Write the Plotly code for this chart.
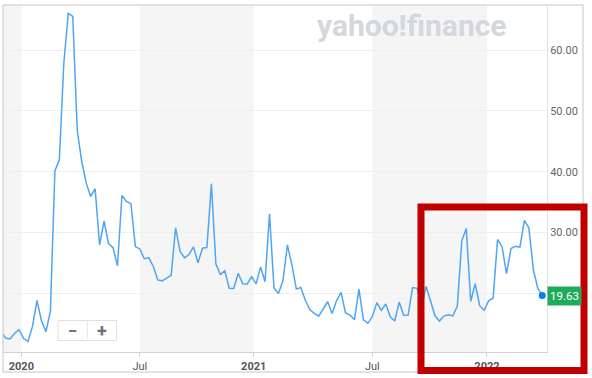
import pandas as pd
import plotly.graph_objects as go

# ---- data (weekly VIX, weeks starting Monday) ----
START_WEEK = "2019-12-02"
VALUES = [
    13.62, 12.63, 12.51, 13.43,
    14.02, 12.56, 12.10, 14.56, 18.84, 15.47, 13.68, 17.08, 40.11, 41.94,
    57.83, 66.04, 65.54, 46.80, 41.67, 38.15, 35.93, 37.19, 27.98, 31.89,
    28.16, 27.51, 24.52, 36.09, 35.12, 34.73, 27.68, 27.29, 25.68, 25.84,
    24.46, 22.21, 22.05, 22.54, 22.96, 30.75, 26.87, 25.83, 26.38, 27.63,
    25.00, 27.41, 27.55, 38.02, 24.86, 23.10, 23.70, 20.84, 20.79, 23.31,
    21.57, 21.53, 22.75,
    21.56, 24.34, 21.91, 33.09, 20.87, 19.97, 22.05, 27.95, 24.66, 20.69,
    20.95, 18.86, 17.33, 16.69, 16.25, 17.33, 18.61, 16.69, 18.81, 20.15,
    16.76, 16.42, 15.65, 20.70, 15.62, 15.07, 16.18, 18.45, 17.20, 18.24,
    16.15, 15.45, 18.56, 16.39, 16.41, 20.95, 20.81, 17.75, 21.15, 18.77,
    16.30, 15.43, 16.26, 16.48, 16.29, 17.91, 28.62, 30.67, 18.69, 21.57,
    17.96, 17.22,
    18.76, 19.19, 28.85, 27.66, 23.22, 27.36, 27.75, 27.59, 31.98, 30.75,
    23.87, 20.81, 19.63,
]
DATES = pd.date_range(START_WEEK, periods=len(VALUES), freq="W-MON")

TICK_DATES = ["2020-01-02 12:00", "2020-07-06", "2020-12-31 06:00", "2021-07-05", "2021-12-31 10:00"]
TICK_LABELS = ["<b>2020</b>", "Jul", "<b>2021</b>", "Jul", "<b>2022</b>"]
Y_TICKS = [20, 30, 40, 50, 60]
Y_LABELS = ["", "30.00", "40.00", "50.00", "60.00"]
X_RANGE = ["2019-12-04 19:00", "2022-04-04 09:00"]
Y_RANGE = [10.35, 67.4]
SHADED = [(X_RANGE[0], TICK_DATES[0]), (TICK_DATES[1], TICK_DATES[2]), (TICK_DATES[3], TICK_DATES[4])]
LAST_LABEL = f"{VALUES[-1]:.2f}"

fig = go.Figure()
fig.add_trace(go.Scatter(x=DATES, y=VALUES, mode="lines",
                         line=dict(color="#4ea5f4", width=1.5), hoverinfo="skip"))
fig.add_trace(go.Scatter(x=[DATES[-1]], y=[VALUES[-1]], mode="markers",
                         marker=dict(color="#0a7ff2", size=7), hoverinfo="skip"))

for a, b in SHADED:
    fig.add_shape(type="rect", xref="x", yref="paper", x0=a, x1=b, y0=0, y1=1,
                  fillcolor="#f5f5f5", line=dict(width=0), layer="below")

W, H = 544.0, 347.0  # plot area px
def px(x):
    return (x - 3) / W
def py(y):
    return (352 - y) / H

# outer frame
fig.add_shape(type="rect", xref="paper", yref="paper", x0=px(3), x1=px(583), y0=py(372), y1=py(5),
              line=dict(color="#c6c6c6", width=1), fillcolor="rgba(0,0,0,0)", layer="above")

# zoom buttons
fig.add_shape(type="rect", xref="paper", yref="paper", x0=px(58), x1=px(116.5), y0=py(340.5), y1=py(320.5),
              line=dict(color="#e0e0e0", width=1), fillcolor="#ffffff", layer="above")
fig.add_shape(type="line", xref="paper", yref="paper", x0=px(87.3), x1=px(87.3), y0=py(339), y1=py(322),
              line=dict(color="#e6e6e6", width=1), layer="above")
fig.add_annotation(x=px(72.5), y=py(330.5), xref="paper", yref="paper", xanchor="center", yanchor="middle",
                   text="<b>\u2212</b>", showarrow=False, font=dict(size=17, color="#6d7177", family="Roboto"))
fig.add_annotation(x=px(102), y=py(330.5), xref="paper", yref="paper", xanchor="center", yanchor="middle",
                   text="<b>+</b>", showarrow=False, font=dict(size=18, color="#6d7177", family="Roboto"))

# watermark
fig.add_annotation(x=px(412), y=py(25), xref="paper", yref="paper", xanchor="center", yanchor="middle",
                   text="<b>yahoo!finance</b>", showarrow=False,
                   font=dict(size=30, color="#d4d7dd", family="Roboto"))

# last value label
fig.add_annotation(x=1.0, y=VALUES[-1], xref="paper", yref="y", xanchor="left", yanchor="middle",
                   text=LAST_LABEL, showarrow=False, bgcolor="#1fab5c", borderpad=2,
                   font=dict(size=11.5, color="#ffffff", family="Roboto"))

# red highlight box
fig.add_shape(type="rect", xref="paper", yref="paper", x0=px(421), x1=px(584), y0=py(370.4), y1=py(207),
              line=dict(color="#c00000", width=7), fillcolor="rgba(0,0,0,0)", layer="above")

fig.update_layout(
    width=592, height=378,
    margin=dict(l=3, r=45, t=5, b=26),
    paper_bgcolor="#ffffff", plot_bgcolor="#ffffff",
    showlegend=False,
    font=dict(family="Roboto", size=11, color="#5f6368"),
    xaxis=dict(range=X_RANGE, tickvals=TICK_DATES, ticktext=TICK_LABELS, showgrid=False,
               showline=True, linecolor="#d2d2d2", ticks="outside", ticklen=4, tickcolor="#d2d2d2",
               zeroline=False, tickfont=dict(size=11, color="#53575d"), fixedrange=True),
    yaxis=dict(range=Y_RANGE, side="right", tickvals=Y_TICKS, ticktext=Y_LABELS,
               showgrid=True, gridcolor="#efefef", showline=True, linecolor="#e2e2e2",
               zeroline=False, ticks="", tickfont=dict(size=11, color="#62666b"), fixedrange=True),
)

fig.write_html("out.html", config={"displayModeBar": False},
               post_script="document.body.style.margin='0';document.body.style.padding='0';")
